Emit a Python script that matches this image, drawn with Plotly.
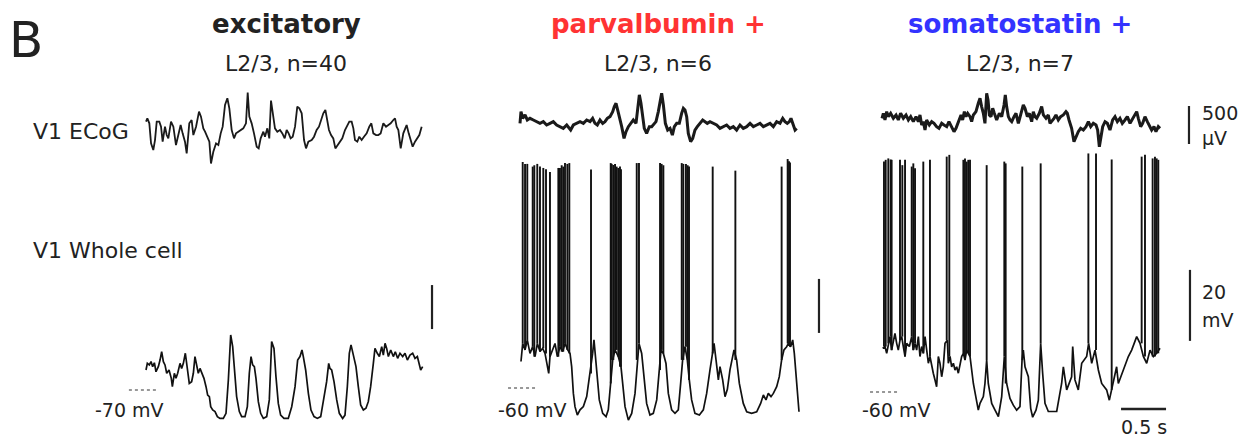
import numpy as np
import plotly.graph_objects as go

# ---------------- DATA (time in s, ECoG in µV, Vm in mV) ----------------
exc_ecog = [(0.000,44),(0.015,88),(0.037,22),(0.056,-242),(0.081,-330),(0.100,-198),(0.119,44),(0.148,44),(0.167,-22),(0.185,-220),
 (0.211,-22),(0.230,-132),(0.248,-176),(0.278,44),(0.304,-22),(0.333,-264),(0.359,-132),(0.385,0),(0.407,-110),(0.433,-220),
 (0.452,-374),(0.481,22),(0.507,66),(0.526,-132),(0.556,-22),(0.589,176),(0.611,110),(0.637,-44),(0.656,-88),(0.674,-132),
 (0.704,-220),(0.722,-506),(0.748,-352),(0.778,-242),(0.804,-264),(0.830,-110),(0.852,-22),(0.878,264),(0.904,352),(0.926,220),
 (0.952,-66),(0.978,-176),(1.000,-110),(1.026,-88),(1.052,-66),(1.081,-44),(1.111,22),(1.130,427),(1.148,110),(1.174,22),
 (1.200,-110),(1.230,-286),(1.252,-308),(1.274,-176),(1.304,-88),(1.322,-154),(1.348,-44),(1.370,-176),(1.389,321),(1.407,154),
 (1.433,-44),(1.459,-88),(1.489,-66),(1.515,-110),(1.541,-176),(1.563,-66),(1.585,-110),(1.607,-176),(1.630,-154),(1.656,-22),
 (1.681,242),(1.704,220),(1.730,154),(1.756,-198),(1.778,-308),(1.804,-220),(1.841,-198),(1.867,-154),(1.896,-66),(1.922,-22),
 (1.944,66),(1.970,154),(1.993,198),(2.007,110),(2.033,-66),(2.056,-132),(2.081,-176),(2.104,-308),(2.130,-264),(2.156,-220),
 (2.181,-176),(2.211,-66),(2.237,0),(2.259,44),(2.285,44),(2.304,-44),(2.322,-198),(2.348,-220),(2.370,-154),(2.396,-198),
 (2.422,-154),(2.452,-110),(2.481,-22),(2.504,22),(2.526,-110),(2.556,-132),(2.581,-132),(2.607,-110),(2.637,22),(2.667,-22),
 (2.693,0),(2.719,22),(2.748,66),(2.767,88),(2.785,-22),(2.804,-66),(2.830,-308),(2.859,-110),(2.881,-44),(2.896,0),
 (2.919,-110),(2.941,-198),(2.963,-286),(2.989,-220),(3.015,-176),(3.037,-132),(3.063,-22)]

exc_vm = [(0.000,-60.9),(0.015,-57.9),(0.037,-58.6),(0.056,-57.1),(0.074,-59.4),(0.093,-57.6),(0.111,-61.7),(0.137,-59.4),(0.156,-56.4),(0.174,-52.6),
 (0.193,-57.1),(0.211,-58.6),(0.230,-62.4),(0.256,-60.9),(0.281,-64.7),(0.293,-68.5),(0.315,-62.4),(0.333,-64.7),(0.352,-62.4),(0.378,-57.9),
 (0.396,-60.2),(0.415,-57.9),(0.437,-53.3),(0.459,-59.4),(0.481,-67.0),(0.507,-66.2),(0.526,-62.4),(0.544,-54.8),(0.563,-58.6),(0.581,-62.4),
 (0.600,-60.2),(0.619,-62.4),(0.644,-64.7),(0.667,-68.5),(0.685,-72.3),(0.704,-73.0),(0.719,-77.6),(0.741,-79.1),(0.767,-79.8),(0.793,-82.1),
 (0.822,-82.9),(0.859,-82.9),(0.889,-80.6),(0.915,-65.5),(0.941,-45.0),(0.963,-50.3),(0.981,-60.9),(1.007,-73.0),(1.037,-79.8),(1.063,-82.1),
 (1.100,-82.1),(1.126,-77.6),(1.148,-62.4),(1.167,-54.8),(1.185,-58.6),(1.204,-59.4),(1.222,-64.7),(1.248,-75.3),(1.274,-80.6),(1.304,-82.9),
 (1.341,-82.1),(1.370,-74.5),(1.396,-48.0),(1.422,-51.1),(1.444,-63.9),(1.470,-76.1),(1.496,-81.4),(1.533,-82.9),(1.581,-82.9),(1.619,-77.6),
 (1.656,-68.5),(1.685,-56.4),(1.711,-54.8),(1.733,-51.8),(1.748,-54.8),(1.774,-60.9),(1.804,-71.5),(1.833,-79.1),(1.867,-82.1),(1.904,-82.9),
 (1.941,-82.1),(1.978,-73.8),(2.007,-66.2),(2.030,-57.9),(2.044,-60.2),(2.063,-60.9),(2.089,-66.2),(2.119,-74.5),(2.148,-80.6),(2.185,-82.9),
 (2.211,-81.4),(2.237,-68.5),(2.259,-53.3),(2.278,-49.5),(2.296,-52.6),(2.311,-54.8),(2.333,-59.4),(2.359,-68.5),(2.385,-76.8),(2.415,-79.1),
 (2.444,-78.3),(2.470,-75.3),(2.496,-68.5),(2.526,-57.9),(2.544,-51.1),(2.570,-53.3),(2.593,-54.8),(2.619,-50.3),(2.637,-54.1),(2.656,-48.8),
 (2.674,-51.1),(2.693,-54.8),(2.719,-51.8),(2.748,-54.8),(2.770,-52.6),(2.796,-55.6),(2.822,-53.3),(2.852,-54.8),(2.878,-53.3),(2.904,-56.4),
 (2.933,-54.1),(2.963,-53.3),(2.989,-55.6),(3.015,-54.8),(3.037,-58.6),(3.052,-60.9),(3.074,-59.4)]

pv_ecog = [(0.000,22),(0.011,176),(0.030,88),(0.056,132),(0.081,66),(0.111,88),(0.148,66),(0.185,44),(0.222,22),(0.259,44),
 (0.296,0),(0.333,22),(0.370,44),(0.407,0),(0.444,-22),(0.481,-44),(0.519,0),(0.537,-22),(0.563,-66),(0.593,0),
 (0.630,22),(0.667,44),(0.704,22),(0.741,66),(0.778,44),(0.807,88),(0.833,22),(0.859,0),(0.889,66),(0.919,22),
 (0.944,44),(0.970,88),(1.000,110),(1.030,176),(1.048,242),(1.067,286),(1.085,198),(1.104,110),(1.130,-22),(1.156,-176),
 (1.178,-88),(1.204,-22),(1.230,22),(1.259,66),(1.289,22),(1.311,286),(1.326,396),(1.344,286),(1.363,110),(1.381,-44),
 (1.407,-110),(1.437,-22),(1.463,-22),(1.489,22),(1.511,44),(1.537,176),(1.556,330),(1.574,418),(1.593,264),(1.615,22),
 (1.641,-66),(1.667,-44),(1.693,-132),(1.715,-22),(1.741,22),(1.770,22),(1.796,154),(1.815,220),(1.833,198),(1.852,110),
 (1.870,-110),(1.896,-220),(1.919,-176),(1.944,-66),(1.970,-22),(2.000,22),(2.030,66),(2.056,44),(2.081,22),(2.111,44),
 (2.148,22),(2.185,0),(2.222,-44),(2.259,-22),(2.296,0),(2.333,-44),(2.370,-22),(2.407,-66),(2.444,0),(2.481,-44),
 (2.519,-22),(2.556,22),(2.593,-22),(2.630,0),(2.667,22),(2.704,-22),(2.741,0),(2.778,22),(2.815,-22),(2.852,44),
 (2.889,22),(2.919,88),(2.944,44),(2.970,22),(2.993,44),(3.011,88),(3.030,22),(3.056,-66),(3.074,-44)]

pv_vm = [(0.011,-50.2),(0.030,-43.5),(0.056,-45.9),(0.081,-42.2),(0.111,-47.2),(0.141,-44.7),(0.167,-48.4),(0.193,-43.5),(0.222,-46.5),(0.252,-45.3),
 (0.278,-47.2),(0.304,-51.5),(0.319,-54.6),(0.333,-48.4),(0.363,-45.9),(0.389,-43.5),(0.415,-48.4),(0.444,-44.7),(0.474,-46.5),(0.500,-43.5),
 (0.530,-45.9),(0.556,-47.2),(0.574,-52.1),(0.593,-62.0),(0.611,-66.9),(0.637,-70.0),(0.667,-68.1),(0.704,-66.9),(0.741,-63.2),(0.778,-54.6),
 (0.807,-47.2),(0.822,-42.2),(0.837,-47.2),(0.852,-54.6),(0.881,-64.4),(0.919,-69.4),(0.956,-70.6),(0.981,-68.1),(1.007,-58.3),(1.030,-49.6),
 (1.056,-45.9),(1.093,-48.4),(1.122,-52.1),(1.141,-58.3),(1.167,-66.9),(1.204,-71.9),(1.241,-69.4),(1.278,-62.0),(1.304,-49.6),(1.322,-43.5),
 (1.352,-47.2),(1.378,-55.8),(1.407,-65.7),(1.444,-70.0),(1.481,-69.4),(1.519,-64.4),(1.548,-53.3),(1.567,-45.9),(1.593,-47.2),(1.622,-50.9),
 (1.648,-62.0),(1.685,-68.1),(1.722,-69.4),(1.759,-68.1),(1.785,-58.3),(1.807,-49.6),(1.833,-44.7),(1.859,-49.6),(1.881,-57.0),(1.907,-64.4),
 (1.944,-69.4),(1.993,-70.0),(2.037,-68.1),(2.074,-62.0),(2.111,-53.3),(2.137,-47.2),(2.156,-43.5),(2.178,-49.6),(2.204,-57.0),(2.222,-52.1),
 (2.252,-57.0),(2.278,-63.2),(2.304,-60.5),(2.333,-53.3),(2.356,-50.0),(2.378,-45.9),(2.407,-49.6),(2.437,-58.3),(2.481,-65.7),(2.519,-68.8),
 (2.574,-69.4),(2.630,-68.8),(2.674,-65.7),(2.704,-62.6),(2.733,-64.4),(2.759,-62.0),(2.789,-63.2),(2.815,-62.0),(2.852,-59.5),(2.881,-55.8),
 (2.907,-49.6),(2.933,-45.9),(2.963,-44.7),(2.981,-43.5),(3.007,-44.7),(3.030,-42.2),(3.048,-47.2),(3.067,-54.6),(3.085,-64.4),(3.100,-68.8)]

pv_spikes = [(0.030,23.7),(0.056,23.0),(0.081,23.0),(0.141,22.0),(0.159,22.5),(0.192,23.0),(0.222,22.0),(0.259,21.5),(0.289,21.0),(0.333,20.0),
 (0.426,21.5),(0.444,21.5),(0.463,22.5),(0.481,22.0),(0.500,23.3),(0.526,23.0),(0.548,23.3),(0.789,20.9),(1.008,23.3),(1.019,23.0),
 (1.037,22.6),(1.056,23.0),(1.074,22.0),(1.092,21.5),(1.111,22.0),(1.122,21.0),(1.297,23.3),(1.322,23.3),(1.556,23.3),(1.574,23.0),
 (1.593,22.5),(1.797,23.3),(1.815,23.0),(1.844,23.0),(1.863,22.5),(1.878,22.0),(2.141,22.0),(2.393,20.5),(2.907,22.0),(2.974,24.8),
 (2.989,24.0),(3.000,23.5)]

som_ecog = [(0.000,88),(0.015,154),(0.033,66),(0.052,176),(0.070,110),(0.096,154),(0.126,88),(0.156,132),(0.181,66),(0.207,154),
 (0.237,88),(0.267,132),(0.293,66),(0.319,110),(0.348,44),(0.378,110),(0.404,44),(0.422,132),(0.441,0),(0.459,44),
 (0.478,-66),(0.496,66),(0.526,0),(0.552,44),(0.578,22),(0.607,-22),(0.633,-44),(0.663,22),(0.689,0),(0.719,-22),
 (0.744,44),(0.774,-22),(0.800,-88),(0.822,-44),(0.841,22),(0.859,88),(0.878,132),(0.896,66),(0.915,176),(0.933,110),
 (0.952,154),(0.978,110),(0.996,44),(1.015,132),(1.044,176),(1.070,286),(1.089,352),(1.107,242),(1.126,154),(1.144,22),
 (1.163,418),(1.178,330),(1.193,132),(1.211,110),(1.230,220),(1.248,154),(1.274,66),(1.304,154),(1.330,110),(1.356,264),
 (1.370,396),(1.385,242),(1.404,110),(1.422,66),(1.441,44),(1.467,110),(1.489,154),(1.515,22),(1.541,154),(1.570,264),
 (1.589,220),(1.615,110),(1.637,154),(1.663,44),(1.681,176),(1.700,110),(1.719,88),(1.748,154),(1.774,242),(1.793,132),
 (1.822,88),(1.848,132),(1.867,22),(1.885,44),(1.911,88),(1.933,132),(1.959,66),(1.985,110),(2.015,132),(2.044,176),
 (2.059,154),(2.078,66),(2.107,-44),(2.133,-220),(2.156,-154),(2.181,-88),(2.207,-44),(2.237,-66),(2.267,-22),(2.293,44),
 (2.319,-22),(2.348,22),(2.378,0),(2.396,-66),(2.415,-286),(2.433,-132),(2.452,-22),(2.478,44),(2.504,22),(2.533,-66),
 (2.563,66),(2.589,110),(2.615,44),(2.644,88),(2.670,22),(2.700,66),(2.726,110),(2.756,22),(2.785,88),(2.811,154),
 (2.830,176),(2.848,88),(2.874,-22),(2.896,22),(2.922,110),(2.948,44),(2.970,0),(2.996,-66),(3.022,-22),(3.044,-88),
 (3.070,-22),(3.089,-44)]

som_vm = [(0.007,-47.7),(0.033,-47.2),(0.052,-49.1),(0.070,-46.3),(0.089,-44.4),(0.107,-48.2),(0.126,-45.4),(0.144,-43.5),(0.163,-46.3),(0.181,-48.2),
 (0.200,-45.4),(0.219,-44.4),(0.237,-47.2),(0.256,-50.0),(0.274,-46.3),(0.304,-47.2),(0.330,-44.4),(0.348,-48.2),(0.367,-46.3),(0.385,-48.2),
 (0.404,-44.4),(0.422,-50.0),(0.441,-47.2),(0.459,-49.1),(0.478,-44.4),(0.496,-48.2),(0.515,-51.9),(0.533,-50.0),(0.552,-52.9),(0.570,-54.7),
 (0.589,-56.6),(0.607,-58.5),(0.626,-50.0),(0.644,-51.9),(0.663,-55.7),(0.681,-52.9),(0.700,-46.3),(0.726,-45.4),(0.737,-51.9),(0.756,-50.0),
 (0.774,-52.9),(0.793,-51.9),(0.811,-53.8),(0.830,-52.9),(0.848,-54.7),(0.867,-51.9),(0.885,-50.0),(0.904,-49.1),(0.922,-51.0),(0.941,-48.2),
 (0.959,-49.1),(0.978,-50.0),(1.015,-57.6),(1.052,-63.2),(1.070,-65.1),(1.089,-63.2),(1.126,-61.3),(1.144,-57.6),(1.163,-51.0),(1.181,-57.6),
 (1.219,-63.2),(1.256,-65.1),(1.293,-66.9),(1.330,-61.3),(1.359,-50.0),(1.385,-57.6),(1.422,-61.8),(1.459,-63.7),(1.496,-65.1),(1.533,-64.1),
 (1.556,-51.0),(1.570,-48.2),(1.589,-52.9),(1.626,-55.7),(1.652,-64.6),(1.674,-67.1),(1.711,-65.1),(1.737,-62.3),(1.763,-46.3),(1.785,-54.7),
 (1.811,-63.2),(1.848,-65.5),(1.904,-65.5),(1.941,-65.5),(1.970,-61.3),(1.996,-57.6),(2.015,-52.9),(2.052,-59.4),(2.107,-55.7),(2.119,-47.2),
 (2.144,-56.6),(2.181,-59.4),(2.219,-51.9),(2.274,-50.0),(2.296,-46.3),(2.330,-51.9),(2.367,-48.2),(2.404,-53.8),(2.441,-57.6),(2.496,-59.4),
 (2.526,-62.3),(2.552,-59.4),(2.607,-52.9),(2.626,-57.6),(2.681,-53.8),(2.737,-50.0),(2.774,-48.2),(2.830,-44.4),(2.867,-46.3),(2.904,-50.0),
 (2.941,-51.9),(2.978,-48.2),(3.015,-50.0),(3.052,-49.1),(3.089,-47.7)]

som_spikes = [(0.022,4.9),(0.041,5.4),(0.070,5.8),(0.096,5.5),(0.107,5.4),(0.200,5.4),(0.226,3.9),(0.256,5.4),(0.330,3.5),(0.348,4.4),
 (0.367,3.0),(0.459,4.9),(0.533,5.4),(0.719,6.3),(0.748,6.8),(0.904,5.4),(0.922,5.8),(0.941,4.9),(0.959,5.4),(0.978,5.4),
 (1.163,3.9),(1.359,4.9),(1.374,4.4),(1.559,3.5),(1.763,4.4),(2.293,7.2),(2.378,7.2),(2.552,5.5),(2.885,6.3),(2.922,6.8),
 (3.007,5.8),(3.033,6.3),(3.052,5.8),(3.070,5.4)]

titles = ["excitatory", "parvalbumin +", "somatostatin +"]
subtitles = ["L2/3, n=40", "L2/3, n=6", "L2/3, n=7"]
rest_levels = [-70, -60, -60]

# ---------------- LAYOUT HELPERS ----------------
W, H = 1242, 439
PX_PER_S = 90.0
ECOG_PX_PER_UV = 38 / 500.0
TXT = "#222222"
FONT = "DejaVu Sans"

def xfrac(px):
    return px / W

def yfrac(py):
    return 1 - py / H

def xaxis_cfg(x0, left, right):
    return dict(domain=[xfrac(left), xfrac(right)],
                range=[(left - x0) / PX_PER_S, (right - x0) / PX_PER_S],
                visible=False, fixedrange=True)

def yaxis_cfg(anchor, top, bottom, ref_py, ref_val, ppu):
    return dict(domain=[yfrac(bottom), yfrac(top)],
                range=[ref_val - (bottom - ref_py) / ppu, ref_val + (ref_py - top) / ppu],
                visible=False, fixedrange=True, anchor=anchor)

panels = [
    dict(x0=146, l=90, r=470, ref_py=390, ppm=44 / 20.0, xa="x", ye="y", yv="y2"),
    dict(x0=520, l=480, r=850, ref_py=388, ppm=54 / 20.0, xa="x2", ye="y3", yv="y4"),
    dict(x0=882, l=855, r=1242, ref_py=392, ppm=71 / 20.0, xa="x3", ye="y5", yv="y6"),
]

fig = go.Figure()
layout = dict(width=W, height=H, margin=dict(l=0, r=0, t=0, b=0),
              paper_bgcolor="white", plot_bgcolor="rgba(0,0,0,0)", showlegend=False)

ecog_data = [exc_ecog, pv_ecog, som_ecog]
vm_data = [exc_vm, pv_vm, som_vm]
spike_data = [None, pv_spikes, som_spikes]
ecog_w = [1.8, 3.0, 3.0]

def axname(a):
    return a.replace("x", "xaxis").replace("y", "yaxis") if len(a) > 1 else ("xaxis" if a == "x" else "yaxis")

for i, p in enumerate(panels):
    layout[axname(p["xa"])] = xaxis_cfg(p["x0"], p["l"], p["r"])
    layout[axname(p["ye"])] = yaxis_cfg(p["xa"], 80, 175, 125, 0.0, ECOG_PX_PER_UV)
    layout[axname(p["yv"])] = yaxis_cfg(p["xa"], 150, 432, p["ref_py"], rest_levels[i], p["ppm"])

    et, ev = zip(*ecog_data[i])
    fig.add_trace(go.Scatter(x=et, y=ev, mode="lines", xaxis=p["xa"], yaxis=p["ye"],
                             line=dict(color="#1a1a1a", width=ecog_w[i]), hoverinfo="skip"))
    vt, vv = zip(*vm_data[i])
    fig.add_trace(go.Scatter(x=vt, y=vv, mode="lines", xaxis=p["xa"], yaxis=p["yv"],
                             line=dict(color="#111111", width=1.7), hoverinfo="skip"))
    if spike_data[i]:
        vt_a = np.array(vt)
        sx, sy = [], []
        for ts, peak in spike_data[i]:
            base = vv[int(np.argmin(np.abs(vt_a - ts)))]
            sx += [ts, ts, None]
            sy += [base, peak, None]
        fig.add_trace(go.Scatter(x=sx, y=sy, mode="lines", xaxis=p["xa"], yaxis=p["yv"],
                                 line=dict(color="#111111", width=1.9), hoverinfo="skip"))
    fig.add_trace(go.Scatter(x=[-0.19 if i == 0 else -0.133, 0.133 if i == 0 else 0.189],
                             y=[rest_levels[i], rest_levels[i]], mode="lines",
                             xaxis=p["xa"], yaxis=p["yv"],
                             line=dict(color="#333333", width=1.2, dash="dot"), hoverinfo="skip"))

def bar(xa, ya, xs, ys, w=2.2):
    fig.add_trace(go.Scatter(x=xs, y=ys, mode="lines", xaxis=xa, yaxis=ya,
                             line=dict(color="#222222", width=w), hoverinfo="skip"))

bar("x", "y2", [3.178, 3.178], [-42.3, -22.3])
bar("x2", "y4", [3.322, 3.322], [-39.6, -19.6])
bar("x3", "y6", [3.422, 3.422], [-45.6, -25.6])
bar("x3", "y5", [3.411, 3.411], [-250, 250])
bar("x3", "y6", [2.656, 3.156], [-64.8, -64.8], w=2.4)

fig.update_layout(**layout)

ann = []
def text(s, px, py, size, color=TXT, bold=False, xanchor="center"):
    ann.append(dict(text=("<b>%s</b>" % s) if bold else s, x=xfrac(px), y=yfrac(py),
                    xref="paper", yref="paper", xanchor=xanchor, yanchor="middle",
                    showarrow=False, font=dict(family=FONT, size=size, color=color)))

text("B", 26, 40, 50)
centers = [286, 658, 1020]
title_colors = ["#222222", "#ff3333", "#3333ff"]
for c, t, s, col in zip(centers, titles, subtitles, title_colors):
    text(t, c, 24, 26, color=col, bold=True)
    text(s, c, 64, 22)
text("V1 ECoG", 31, 131, 22, xanchor="left")
text("V1 Whole cell", 31, 250, 22, xanchor="left")
text("-70 mV", 129, 410, 19)
text("-60 mV", 532, 410, 19)
text("-60 mV", 896, 410, 19)
text("500", 1200, 113, 19, xanchor="left")
text("µV", 1200, 138, 19, xanchor="left")
text("20", 1200, 292, 19, xanchor="left")
text("mV", 1200, 320, 19, xanchor="left")
text("0.5 s", 1144, 427, 19)
fig.update_layout(annotations=ann)

fig.write_html("out.html")
